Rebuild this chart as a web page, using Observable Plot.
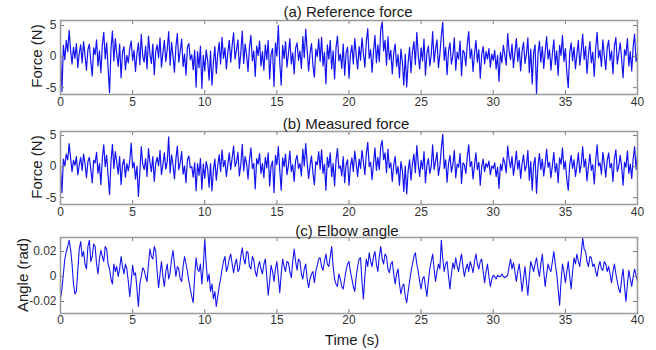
<!DOCTYPE html>
<html><head><meta charset="utf-8">
<script src="https://cdn.jsdelivr.net/npm/d3@7"></script>
<script src="https://cdn.jsdelivr.net/npm/@observablehq/plot@0.6"></script>
<style>
body{margin:0;background:#fff;}
#root{position:relative;width:656px;height:350px;font-family:"Liberation Sans",Arial,sans-serif;overflow:hidden;}
.p{position:absolute;left:0;}
.lbl{position:absolute;transform:translate(-50%,-50%);white-space:nowrap;color:#1a1a1a;font-size:15px;line-height:1;}
.ylbl{transform:translate(-50%,-50%) rotate(-90deg);}
</style></head><body><div id="root"></div>
<script>
// sample spacing (s)
const dtForce = 0.1;
const dtAngle = 0.1;

// (a) Reference force (N), t = 0..40 s
const refForce = [
  0.5,-5.6,1.8,-0.5,2.6,0.8,4.2,1.0,-1.2,1.5, -0.3,2.1,-1.8,0.6,1.9,-1.0,2.4,0.2,-2.2,1.1,
  2.0,-0.8,-3.1,1.4,0.3,2.7,-1.5,0.9,-2.6,1.8, 3.9,-0.4,2.2,-1.9,-5.8,1.2,4.1,-0.7,2.9,0.4,
  -1.6,2.0,-3.4,0.7,1.6,-2.1,0.2,-1.0,1.3,2.5, -0.6,1.0,-2.4,0.5,2.2,-1.3,3.6,0.1,-0.9,1.7,
  -2.0,3.3,0.4,-1.1,2.0,-2.9,0.8,1.9,-0.2,3.0, -1.7,0.6,2.6,-0.8,1.2,4.0,-1.4,2.3,0.0,-2.5,
  1.6,3.7,-0.9,0.9,2.8,-1.6,0.4,-3.0,1.5,2.1, -0.5,0.3,-2.1,1.0,-4.9,0.8,-1.8,1.7,-5.1,0.2,
  -2.3,1.1,-0.6,-3.8,0.9,-4.6,-1.0,1.6,-2.7,0.4, 2.3,-1.2,3.1,-0.3,1.4,-2.0,0.7,2.6,-0.9,1.8,
  3.8,-0.4,1.1,2.7,-1.9,0.6,4.1,-1.1,2.0,0.3, -2.4,1.5,3.4,-0.7,0.9,-3.2,1.7,0.2,2.5,-1.5,
  0.8,-2.2,1.9,-0.5,2.6,-3.6,0.4,1.3,-4.8,2.2, 0.1,5.0,-1.0,-4.6,1.8,-0.3,2.4,-1.7,0.5,2.9,
  -1.2,0.6,-2.8,1.4,2.2,-0.6,0.9,-1.9,3.2,-0.2, 4.4,1.0,-2.3,0.5,2.1,-1.4,-3.3,1.2,0.0,2.8,
  -0.8,3.1,-1.5,0.7,-4.4,1.9,-0.4,2.6,-2.0,0.9, -3.6,1.4,3.3,-0.7,0.4,-1.9,2.0,-3.0,0.6,1.5,
  -3.5,0.3,1.8,-1.2,2.9,0.2,-2.0,1.6,-0.6,3.0, 0.5,-1.7,2.4,4.5,-0.3,1.1,-2.5,0.8,3.4,-1.0,
  1.9,-0.8,4.3,5.6,0.9,2.6,-1.4,3.2,-0.5,1.0, -2.8,0.6,2.0,-1.6,0.3,-3.4,1.2,-0.9,-4.6,0.4,
  -4.9,-1.0,1.5,-2.6,0.8,2.4,-1.3,3.9,0.2,-2.0, 1.4,-0.7,2.8,-3.0,0.5,1.7,-1.5,0.3,4.0,-0.9,
  1.2,2.7,-1.8,0.4,3.3,5.5,-0.6,1.5,-2.9,0.9, 2.2,-1.2,0.1,3.0,-2.2,0.7,-0.4,2.5,-3.1,1.0,
  0.6,-1.5,2.0,4.0,-0.3,1.2,-2.4,0.5,2.6,-0.9, 1.1,-3.5,0.3,1.6,-1.2,0.8,-0.4,1.3,-1.7,0.4,
  -0.6,1.0,-2.0,0.2,-4.0,0.7,-1.0,1.8,0.3,-1.4, 3.7,0.8,-0.5,2.0,-1.8,0.6,2.9,-0.8,1.4,-2.3,
  0.9,2.3,-1.1,0.4,3.0,-2.6,1.2,-4.4,0.6,1.9, -6.0,0.3,2.5,-0.9,1.6,-1.9,0.8,3.2,-0.4,1.1,
  -2.2,0.5,2.7,-1.3,0.9,-3.0,1.8,0.2,3.4,-0.8, 1.3,-2.5,-5.0,0.6,2.2,-0.7,1.5,-2.0,0.4,2.6,
  -1.4,0.8,3.6,-0.5,1.6,-2.7,0.3,2.4,-1.0,0.7, -3.2,1.3,3.9,-0.2,1.0,-1.6,2.7,0.1,-2.1,1.4,
  2.6,-0.6,0.9,-2.8,1.7,3.1,-1.2,0.5,2.2,-0.4, -3.4,1.1,0.2,2.9,-1.5,0.8,-2.3,1.6,3.6,-0.8,
  0.6
];

// (b) Measured force (N)
const measForce = [
  -0.2,-4.2,1.2,0.1,2.0,1.1,3.7,1.4,-0.8,1.0, 0.2,1.6,-1.3,0.3,1.5,-0.6,2.0,0.5,-1.8,0.8,
  1.5,-0.4,-2.6,1.0,0.6,2.3,-1.1,0.5,-2.9,1.3, 3.5,0.0,1.8,-1.5,-4.5,0.8,3.6,-0.3,2.4,0.7,
  -1.2,1.6,-2.9,0.3,1.2,-1.7,0.5,-0.7,0.9,3.8, -0.2,0.7,-2.0,0.1,-4.8,-1.0,3.2,0.4,-0.5,1.3,
  -1.6,2.9,0.7,-0.8,1.6,-2.4,0.5,1.5,0.1,2.6, -1.3,0.3,2.2,-0.4,0.8,4.8,-1.0,1.9,0.3,-2.0,
  1.2,3.3,-0.5,0.6,2.4,-1.2,0.1,-2.6,1.1,1.7, -0.2,0.0,-1.7,0.6,-3.9,0.5,-1.4,1.3,-3.7,0.4,
  -1.9,0.8,-0.3,-3.3,0.5,-3.9,-0.6,1.2,-2.2,0.1, 1.9,-0.8,2.7,0.0,1.0,-1.6,0.4,2.2,-0.5,1.4,
  3.3,0.0,0.7,2.3,-1.5,0.3,3.6,-0.7,1.6,0.5, -2.0,1.1,3.0,-0.3,0.5,-3.6,1.3,0.4,2.1,-1.1,
  0.5,-1.8,1.5,-0.2,2.2,-3.1,0.1,0.9,-4.2,1.8, 0.3,3.2,-0.6,-3.8,1.4,0.0,2.0,-1.3,0.2,2.5,
  -0.8,0.3,-2.4,1.0,1.8,-0.3,0.5,-1.5,2.8,0.1, 3.7,0.6,-1.9,0.2,1.7,-1.0,-2.9,0.8,0.3,2.4,
  -0.4,2.7,-1.1,0.4,-3.8,1.5,-0.1,2.2,-1.6,0.5, -3.1,1.0,2.9,-0.3,0.1,-1.5,1.6,-2.6,0.3,1.1,
  -3.0,0.0,1.4,-0.8,2.5,0.5,-1.6,1.2,-0.3,2.6, 0.8,-1.3,2.0,3.9,0.0,0.7,-2.1,0.5,3.0,-0.6,
  1.5,-0.5,3.2,4.2,1.1,2.2,-1.0,2.8,-0.2,0.6, -2.4,0.3,1.6,-1.2,0.0,-3.0,0.8,-0.6,-4.0,0.1,
  -4.4,-0.7,1.1,-2.2,0.5,2.0,-1.0,3.4,0.4,-1.6, 1.0,-0.4,2.4,-2.6,0.2,1.3,-1.1,0.0,3.5,-0.5,
  0.8,2.3,-1.4,0.1,2.9,5.2,-0.3,1.1,-2.5,0.5, 1.8,-0.9,0.3,2.6,-1.8,0.4,-0.1,2.1,-2.7,0.6,
  0.3,-1.1,1.6,3.5,0.0,0.8,-2.0,0.2,2.2,-0.5, 0.7,-3.0,0.0,1.2,-0.8,0.5,-0.1,0.9,-1.3,0.1,
  -0.3,0.6,-1.6,-0.1,-3.5,0.4,-0.6,1.4,0.6,-1.0, 3.3,1.1,-0.2,1.6,-1.4,0.3,2.5,-0.4,1.0,-1.9,
  0.5,1.9,-0.7,0.1,2.6,-2.2,0.8,-3.8,0.3,1.5, -4.3,0.0,2.1,-0.5,1.2,-1.5,0.4,2.8,-0.1,0.7,
  -1.8,0.2,2.3,-0.9,0.5,-2.6,1.4,0.4,3.0,-0.4, 0.9,-2.1,-3.8,0.3,1.8,-0.3,1.1,-1.6,0.1,2.2,
  -1.0,0.4,3.2,-0.1,1.2,-2.3,0.0,2.0,-0.6,0.3, -2.8,0.9,3.5,0.1,0.6,-1.2,2.3,0.4,-1.7,1.0,
  2.2,-0.2,0.5,-2.4,1.3,2.7,-0.8,0.1,1.8,0.0, -3.0,0.7,-0.1,2.5,-1.1,0.4,-1.9,1.2,3.2,-0.4,
  1.9
];

// (c) Elbow angle (rad)
const elbowAngle = [
  -0.018,-0.010,0.002,0.014,0.020,0.024,0.029,0.022,0.010,-0.006, -0.014,-0.012,0.005,0.022,0.028,0.016,0.020,0.010,0.006,0.024,
  0.029,0.012,0.016,0.026,0.024,0.010,0.002,0.014,0.021,0.016, 0.012,0.024,0.022,0.010,0.006,-0.002,-0.006,0.010,0.004,0.008,
  0.000,0.006,0.016,0.008,0.002,0.010,0.006,-0.004,-0.016,-0.004, 0.009,0.001,0.003,-0.010,-0.024,-0.006,0.000,0.007,0.005,0.000,
  -0.004,0.010,0.022,0.016,0.014,0.024,0.020,0.004,-0.009,0.002, 0.012,0.000,-0.008,0.004,0.010,-0.002,0.003,0.014,0.021,0.010,
  0.000,0.008,0.006,-0.002,-0.004,0.008,0.016,0.010,0.004,-0.004, -0.010,-0.016,-0.021,0.000,0.015,0.006,0.004,0.010,-0.006,0.008,
  0.030,0.010,-0.004,0.002,-0.012,-0.006,-0.018,-0.012,-0.024,-0.016, -0.008,-0.002,0.006,0.012,0.016,0.004,0.008,0.014,0.018,0.010,
  0.003,0.010,0.014,0.004,0.006,0.016,0.023,0.014,0.010,0.020, 0.019,0.008,0.006,0.016,0.013,0.004,0.000,0.008,0.012,0.006,
  0.002,0.010,0.014,0.000,-0.015,-0.004,0.009,0.004,-0.004,0.006, 0.012,0.000,-0.013,0.002,0.014,0.008,0.004,0.012,0.011,0.004,
  -0.001,0.012,0.022,0.012,0.005,0.014,0.012,0.002,-0.002,0.006, 0.010,-0.002,-0.009,-0.002,0.002,0.004,-0.005,0.004,0.009,0.014,
  0.015,0.008,0.005,0.012,0.018,0.010,0.008,0.016,0.024,0.008, -0.002,-0.006,-0.008,0.002,-0.002,-0.008,-0.010,-0.002,0.005,0.010,
  0.012,0.004,-0.002,-0.008,-0.012,0.000,0.008,0.014,0.015,-0.004, -0.018,0.000,0.014,0.008,0.019,0.012,0.008,0.016,0.020,0.010,
  0.004,0.016,0.024,0.014,0.010,0.018,0.016,0.006,0.003,0.010, 0.012,0.002,-0.006,0.002,0.006,-0.006,-0.014,-0.008,-0.006,-0.016,
  -0.021,-0.012,-0.004,0.004,0.010,0.016,0.019,0.010,0.004,-0.004, -0.010,-0.002,0.000,-0.008,-0.016,-0.004,0.006,0.012,0.018,0.006,
  -0.004,0.004,0.010,0.006,0.029,0.014,0.004,0.010,0.012,0.000, -0.010,0.002,0.011,0.006,0.015,0.008,0.004,0.012,0.018,0.008,
  0.000,0.006,0.010,0.004,0.012,0.008,0.003,0.012,0.018,0.010, 0.006,0.012,0.014,0.004,-0.005,0.004,0.010,0.000,-0.008,-0.002,
  0.001,0.000,-0.002,0.001,0.000,0.000,0.002,0.000,-0.001,0.000, 0.001,0.008,0.014,0.006,0.011,0.004,-0.004,0.004,0.010,0.000,
  -0.012,-0.002,0.008,-0.004,-0.015,0.000,0.012,0.008,0.004,0.010, 0.015,0.006,0.000,0.010,0.018,0.004,-0.008,0.002,0.010,0.006,
  0.004,0.012,0.020,0.010,0.002,-0.010,-0.023,-0.004,0.010,0.004, -0.005,0.004,0.012,0.000,-0.010,0.004,0.015,0.010,0.018,0.012,
  0.008,0.018,0.031,0.022,0.020,0.012,0.008,0.016,0.015,0.008, 0.010,0.004,0.000,0.008,0.012,0.006,0.005,0.012,0.010,0.004,
  0.008,0.002,-0.005,0.004,0.010,0.002,-0.004,-0.010,-0.013,-0.002, 0.006,-0.008,-0.020,-0.006,0.005,-0.002,-0.008,0.000,0.006,0.001,
  -0.004
];

const xTicks = [0, 5, 10, 15, 20, 25, 30, 35, 40];
const forceTicks = [-5, 0, 5];
const angleTicks = [-0.02, 0, 0.02];

const titles = ["(a) Reference force", "(b) Measured force", "(c) Elbow angle"];
const yLabels = ["Force (N)", "Force (N)", "Angle (rad)"];
const xLabel = "Time (s)";

const root = document.getElementById("root");
const FONT = '"Liberation Sans", Arial, sans-serif';

function panel(values, dt, yDomain, yTicks, top, height, mt, mb, lw, pad) {
  const data = values.map((v, i) => ({t: Math.round(i * dt * 100) / 100, v}));
  const W = 656, ml = 60, mr = 19;
  const fh = height - mt - mb, fw = W - ml - mr, tk = 4;
  const tickColor = "#7a7a7a";
  const svg = Plot.plot({
    width: W, height, marginTop: mt, marginBottom: mb, marginLeft: ml, marginRight: mr,
    style: {fontFamily: FONT, fontSize: "12px", color: "#333", background: "transparent", overflow: "visible"},
    x: {domain: [0, 40]},
    y: {domain: yDomain},
    marks: [
      Plot.line(data, {x: "t", y: "v", stroke: "#1414f0", strokeWidth: lw}),
      Plot.tickX(xTicks, {x: d => d, insetTop: fh - tk, stroke: tickColor}),
      Plot.tickX(xTicks, {x: d => d, insetBottom: fh - tk, stroke: tickColor}),
      Plot.tickY(yTicks, {y: d => d, insetLeft: fw - tk, stroke: tickColor}),
      Plot.tickY(yTicks, {y: d => d, insetRight: fw - tk, stroke: tickColor}),
      Plot.frame({stroke: "#999", strokeWidth: 1.5}),
      Plot.axisX(xTicks, {tickSize: 0, tickPadding: pad, label: null, tickFormat: d => String(d)}),
      Plot.axisY(yTicks, {tickSize: 0, tickPadding: 4, label: null, tickFormat: d => String(d)})
    ]
  });
  svg.classList.add("p");
  svg.style.top = top + "px";
  root.appendChild(svg);
}

panel(refForce, dtForce, [-6.1, 5.8], forceTicks, 0, 108, 20, 14, 1.2, 3);
panel(measForce, dtForce, [-6.1, 5.65], forceTicks, 110, 108, 21, 14, 1.2, 3);
panel(elbowAngle, dtAngle, [-0.0296, 0.0312], angleTicks, 220, 110, 17, 17, 1.1, 2);

function label(text, x, y, cls) {
  const d = document.createElement("div");
  d.className = "lbl" + (cls ? " " + cls : "");
  d.textContent = text;
  d.style.left = x + "px";
  d.style.top = y + "px";
  root.appendChild(d);
}
label(titles[0], 348, 11);
label(titles[1], 346, 123);
label(titles[2], 347, 230);
label(yLabels[0], 36, 56, "ylbl");
label(yLabels[1], 36, 167, "ylbl");
label(yLabels[2], 22, 275, "ylbl");
label(xLabel, 352, 339);
</script>
</body></html>
